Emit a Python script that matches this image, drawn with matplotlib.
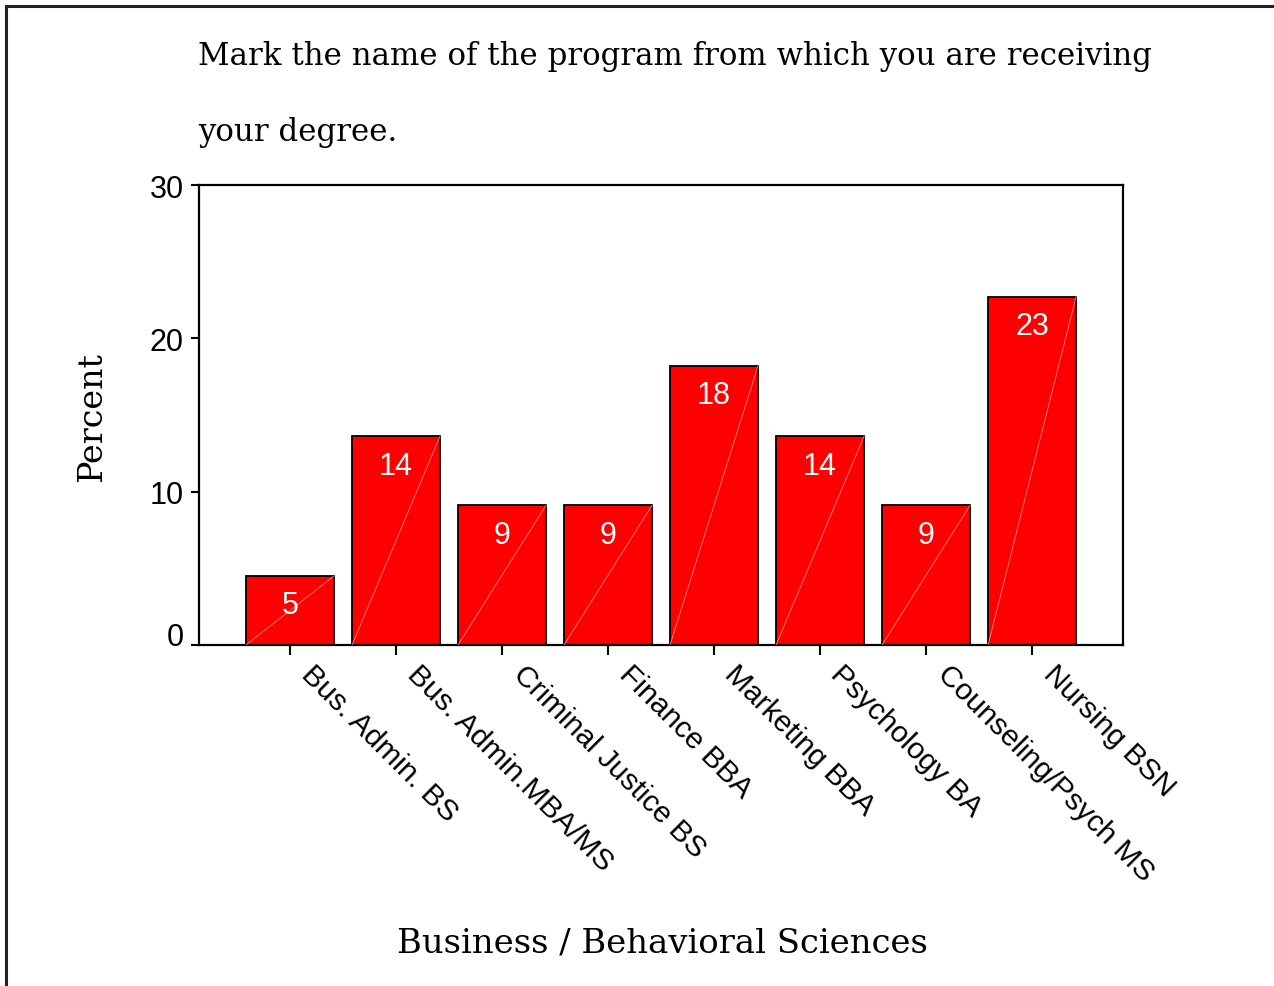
import matplotlib
matplotlib.use("Agg")
import matplotlib.pyplot as plt
from matplotlib.lines import Line2D
import numpy as np

# data (22 respondents)
programs = ["Bus. Admin. BS", "Bus. Admin.MBA/MS", "Criminal Justice BS", "Finance BBA",
            "Marketing BBA", "Psychology BA", "Counseling/Psych MS", "Nursing BSN"]
percents = [4.5, 13.6, 9.1, 9.1, 18.2, 13.6, 9.1, 22.7]
bar_labels = ["5", "14", "9", "9", "18", "14", "9", "23"]

plt.rcParams['font.family'] = ['Liberation Sans', 'DejaVu Sans']
serif = ['DejaVu Serif']

fig = plt.figure(figsize=(12.74, 9.87), dpi=100)
ax = fig.add_axes([199/1274, 1 - 646/987, (1123-199)/1274, (646-186)/987])

x = np.arange(len(programs))
w = 0.83
ax.bar(x, percents, width=w, color='#ff0000', edgecolor='black', linewidth=1.3, zorder=2)

# faint diagonal inside each bar
for xi, v in zip(x, percents):
    ax.plot([xi - w/2, xi + w/2], [0, v], color='#ff8a8a', lw=0.6, zorder=3)

for xi, v, lab in zip(x, percents, bar_labels):
    ax.text(xi, v - 1.9, lab, color='white', ha='center', va='center', fontsize=22, zorder=4)

ax.set_xlim(-0.858, 7.858)
ax.set_ylim(0, 30)
ax.set_yticks([0, 10, 20, 30])
ax.set_xticks(x)
ax.set_xticklabels([])
ax.tick_params(axis='y', labelsize=22, length=6, width=1.5, direction='out', pad=5)
ax.tick_params(axis='x', length=7, width=1.5, direction='out')
ax.get_yticklabels()[0].set_va('baseline')
for s in ax.spines.values():
    s.set_linewidth(1.6)

# rotated category labels, hanging off each tick
for xi, name in zip(x, programs):
    ax.annotate(name, xy=(xi, 0), xycoords='data', xytext=(7, -21.5), textcoords='offset points',
                rotation=-45, rotation_mode='anchor', ha='left', va='baseline',
                fontsize=21.5, annotation_clip=False)

fig.text(92/1274, 1 - 417/987, "Percent", fontfamily=serif, fontsize=24,
         rotation=90, ha='center', va='center')
fig.text(662/1274, 1 - 944/987, "Business / Behavioral Sciences", fontfamily=serif,
         fontsize=24.4, ha='center', va='center')

fig.text(198/1274, 1 - 56/987, "Mark the name of the program from which you are receiving",
         fontfamily=serif, fontsize=22.2, ha='left', va='center')
fig.text(198/1274, 1 - 132/987, "your degree.", fontfamily=serif, fontsize=22.2, ha='left', va='center')

# outer frame (only top and left visible)
fig.add_artist(Line2D([6/1274, 1], [1 - 7/987, 1 - 7/987], color='#222222', lw=2.2))
fig.add_artist(Line2D([6/1274, 6/1274], [0, 1 - 7/987], color='#222222', lw=2.2))

fig.savefig("out.png", dpi=100)
